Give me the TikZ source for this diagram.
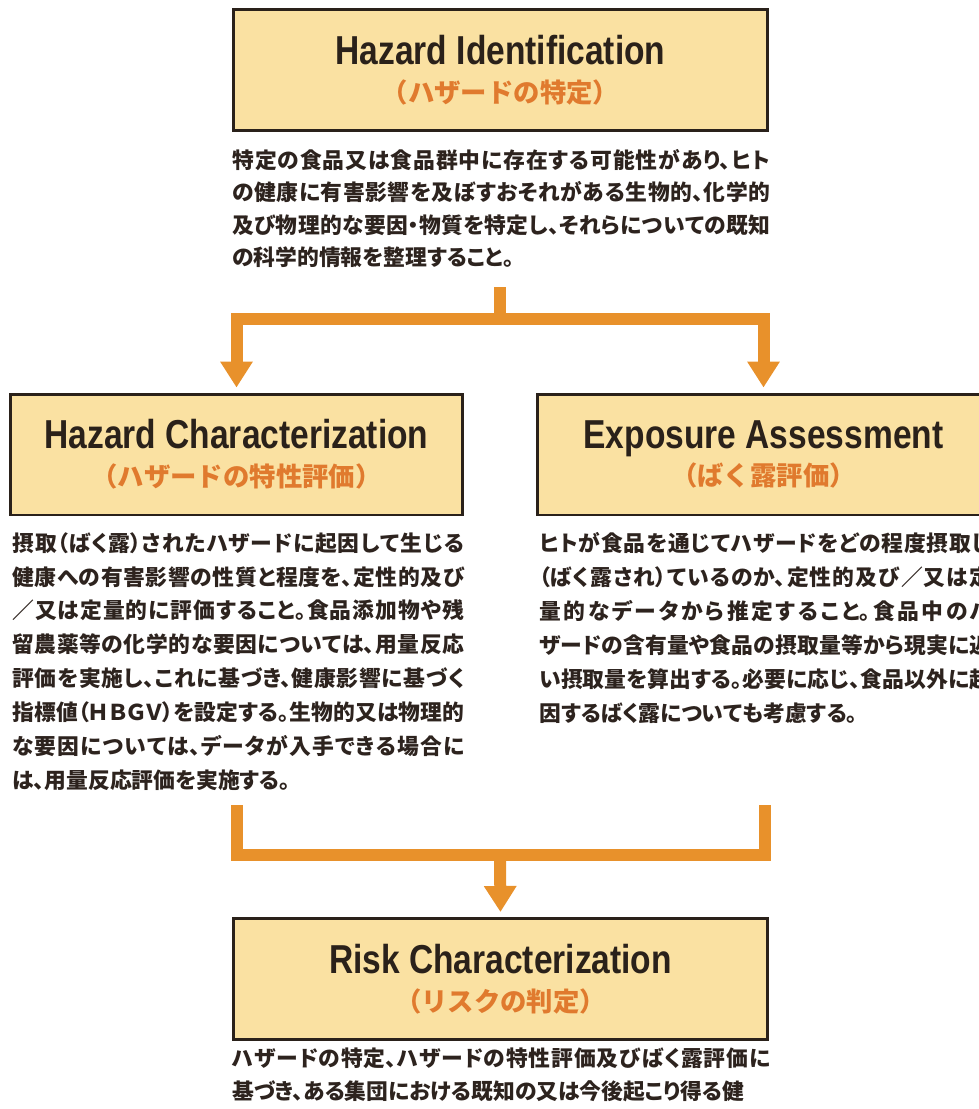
\documentclass[tikz,border=0pt]{standalone}
\usepackage{fontspec}
\newfontfamily\titlefont[FakeStretch=0.83]{Liberation Sans}
\newfontfamily\jpfont{Noto Sans CJK JP}
\newfontfamily\jpbody[RawFeature=+palt]{Noto Sans CJK JP}
\XeTeXlinebreaklocale "ja"
\XeTeXlinebreakskip=0pt plus 3pt
\usetikzlibrary{arrows.meta}

\definecolor{boxfill}{RGB}{250,225,162}
\definecolor{boxline}{RGB}{42,33,26}
\definecolor{flowcol}{RGB}{232,145,43}
\definecolor{subcol}{RGB}{224,122,46}
\definecolor{bodytext}{RGB}{45,35,30}

\newcommand{\stagetitle}[2]{{\titlefont\bfseries\fontsize{23pt}{23pt}\selectfont\raisebox{0pt}[\height][0pt]{#1}}\\[7.5pt]{\jpfont\bfseries\color{subcol}\fontsize{15pt}{15pt}\selectfont #2}}

\tikzset{
  stage/.style={draw=boxline, fill=boxfill, line width=1.7pt, align=center,
    inner sep=0pt, text=boxline},
  wide/.style={minimum width=10.7cm, minimum height=2.42cm},
  half/.style={minimum width=9.06cm, minimum height=2.42cm},
  desc/.style={anchor=north west, inner sep=0pt, align=justify, text=bodytext,
    font=\jpbody\bfseries\fontsize{12.4pt}{19.3pt}\selectfont},
  flowline/.style={draw=flowcol, line width=0.24cm},
  flow/.style={flowline, -{Triangle[width=0.62cm,length=0.52cm]}, shorten >=0.1cm},
}

\begin{document}
\begin{tikzpicture}[x=0.02cm, y=-0.02cm]
    \useasboundingbox (0,0) rectangle (979,1109);
    \clip (0,0) rectangle (979,1109);

    % stages
    \node[stage, wide] (hi) at (500.5,70) {\stagetitle{Hazard Identification}{（ハザードの特定）}};
    \node[stage, half] (hc) at (236.5,454.5) {\stagetitle{Hazard Characterization}{（ハザードの特性評価）}};
    \node[stage, half] (ea) at (763.5,454.5) {\stagetitle{Exposure Assessment}{（ばく露評価）}};
    \node[stage, wide] (rc) at (500.5,979) {\stagetitle{Risk Characterization}{（リスクの判定）}};

    % descriptions
    \node[desc, text width=10.76cm, font=\jpbody\bfseries\fontsize{12.4pt}{18.5pt}\selectfont] (hitext) at (232,149) {%
特定の食品又は食品群中に存在する可能性があり、ヒト\linebreak
の健康に有害影響を及ぼすおそれがある生物的、化学的\linebreak
及び物理的な要因・物質を特定し、それらについての既知\linebreak
の科学的情報を整理すること。};
    \node[desc, text width=9.04cm] (hctext) at (12,532) {%
摂取（ばく露）されたハザードに起因して生じる\linebreak
健康への有害影響の性質と程度を、定性的及び\linebreak
／又は定量的に評価すること。食品添加物や残\linebreak
留農薬等の化学的な要因については、用量反応\linebreak
評価を実施し、これに基づき、健康影響に基づく\linebreak
指標値（ＨＢＧＶ）を設定する。生物的又は物理的\linebreak
な要因については、データが入手できる場合に\linebreak
は、用量反応評価を実施する。};
    \node[desc, text width=9.04cm] (eatext) at (539,532) {%
ヒトが食品を通じてハザードをどの程度摂取し\linebreak
（ばく露され）ているのか、定性的及び／又は定\linebreak
量的なデータから推定すること。食品中のハ\linebreak
ザードの含有量や食品の摂取量等から現実に近\linebreak
い摂取量を算出する。必要に応じ、食品以外に起\linebreak
因するばく露についても考慮する。};
    \node[desc, text width=10.76cm] (rctext) at (232,1047) {%
ハザードの特定、ハザードの特性評価及びばく露評価に\linebreak
基づき、ある集団における既知の又は今後起こり得る健};

    % flow arrows
    \coordinate (stem) at (500,287);
    \coordinate (fork) at (500,319);
    \draw[flow] (stem) -- (fork) -| (hc.north);
    \draw[flow] (fork) -| (ea.north);

    \coordinate (hcout) at (237,805);
    \coordinate (eaout) at (765,805);
    \coordinate (merge) at (500,855);
    \draw[flowline] (hcout) -- (hcout |- merge) -- (eaout |- merge) -- (eaout);
    \draw[flow] (merge) -- (rc.north);
\end{tikzpicture}
\end{document}
